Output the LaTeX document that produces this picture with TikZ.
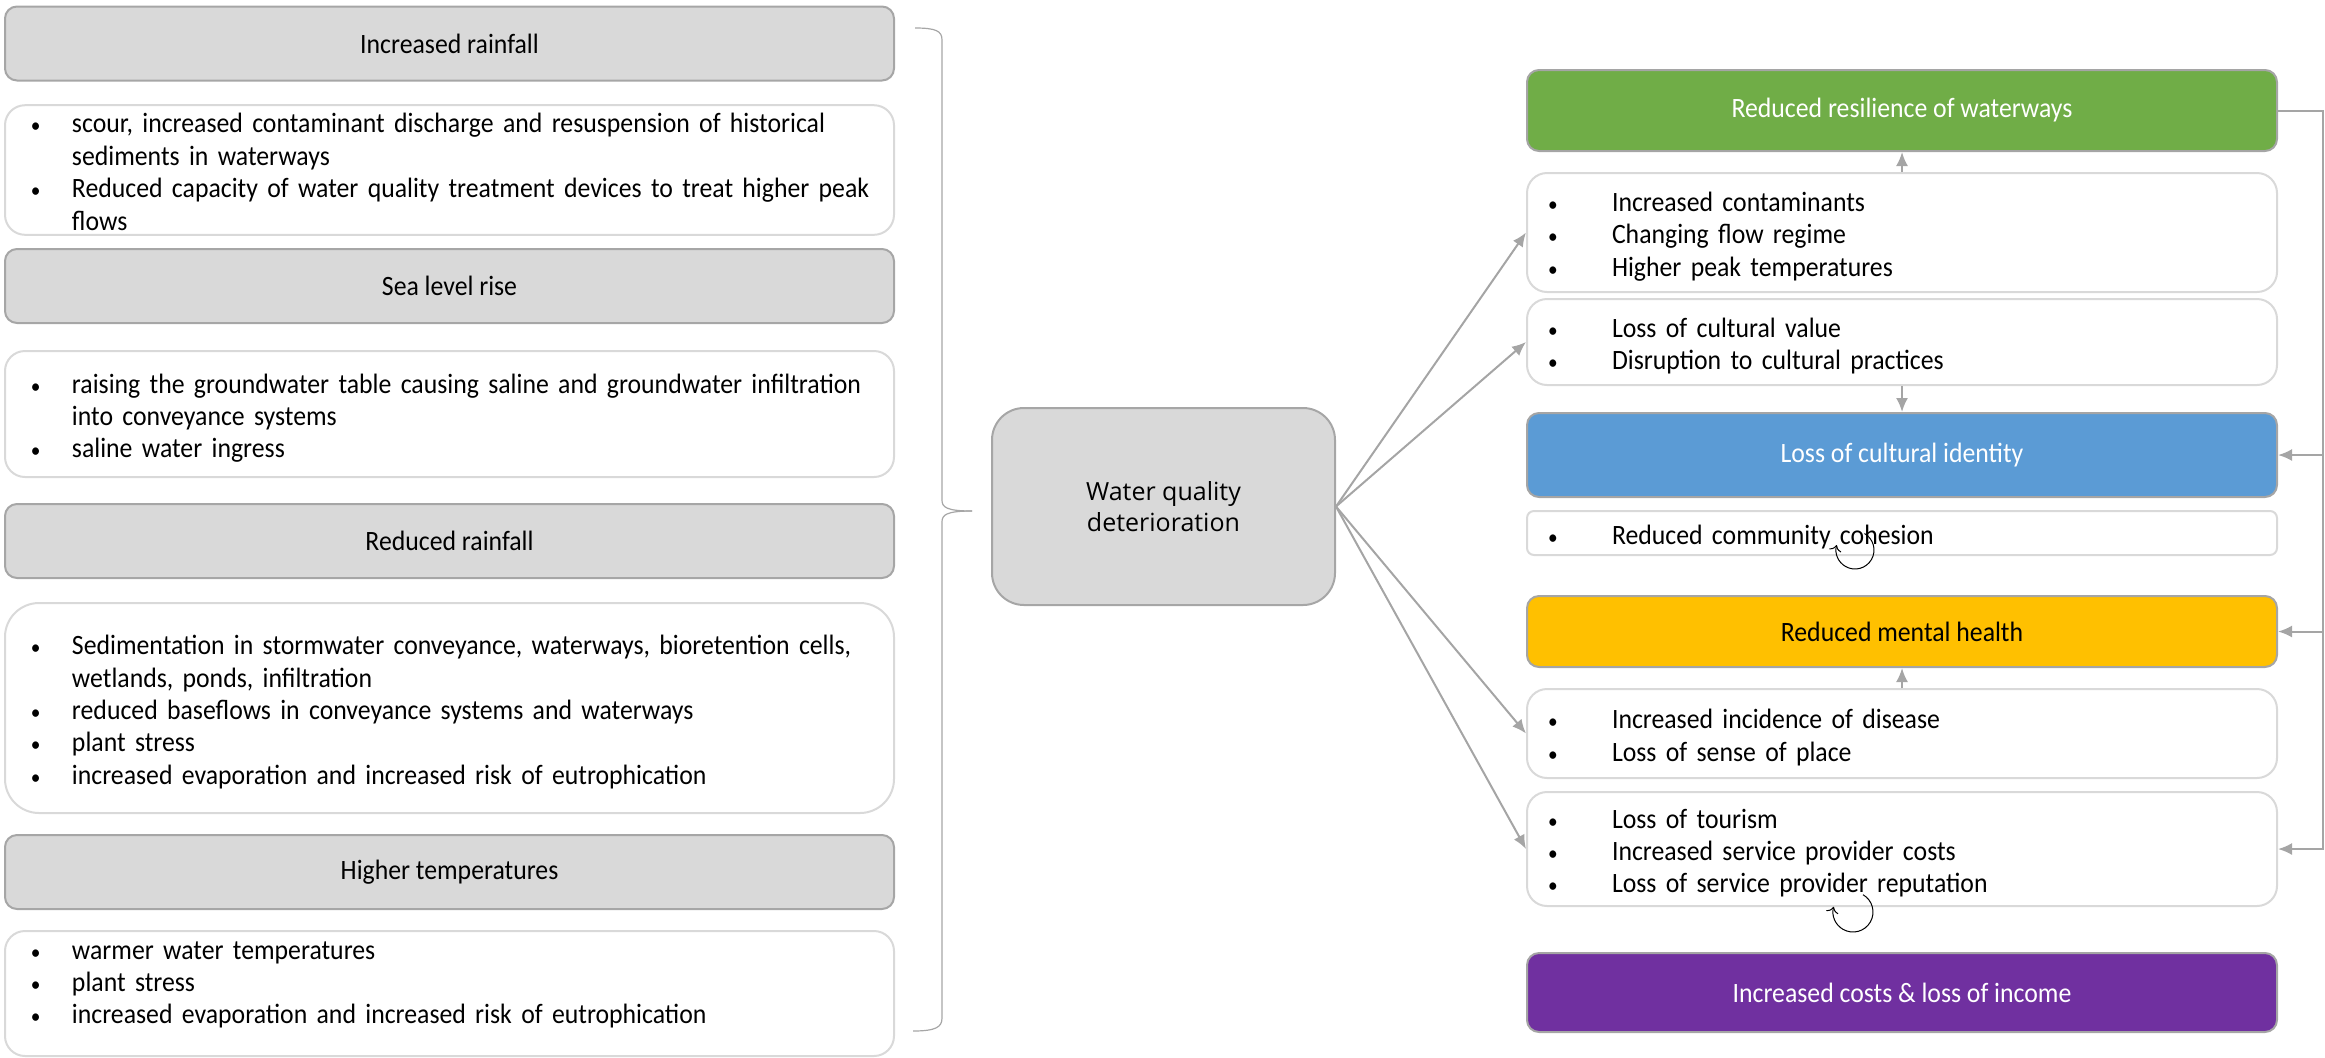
\documentclass[tikz,border=0pt]{standalone}
\usepackage{fontspec}
\setmainfont{Carlito}[FakeStretch=0.92]
\newfontfamily\centrefont{Open Sans}
\usetikzlibrary{arrows.meta}

\definecolor{headfill}{HTML}{D9D9D9}
\definecolor{headline}{HTML}{A6A6A6}
\definecolor{listline}{HTML}{D9D9D9}
\definecolor{arrowgrey}{HTML}{A5A5A5}
\definecolor{greenbox}{HTML}{70AD47}
\definecolor{bluebox}{HTML}{5B9BD5}
\definecolor{yellowbox}{HTML}{FFC000}
\definecolor{purplebox}{HTML}{7030A0}

\newcommand{\bul}{\scalebox{0.75}{\textbullet}}
\newcommand{\leftlist}[1]{\raisebox{-2.5pt}[\height][\depth]{\begin{tabular}{@{}p{20.5pt}@{}l@{}}#1\end{tabular}}}
\newcommand{\rightlist}[1]{\raisebox{-2.5pt}[\height][\depth]{\begin{tabular}{@{}p{32pt}@{}l@{}}#1\end{tabular}}}

\tikzset{
    headbox/.style={draw=headline, fill=headfill, line width=1pt, rounded corners=6pt,
        minimum width=444.5pt, minimum height=37pt, inner sep=0pt},
    leftbox/.style={draw=listline, fill=white, line width=1pt, rounded corners=10pt,
        minimum width=444.5pt, inner xsep=13pt, inner ysep=0pt, text width=418.5pt, align=left},
    rightbox/.style={draw=listline, fill=white, line width=1pt, rounded corners=10pt,
        minimum width=375pt, inner xsep=10.5pt, inner ysep=0pt, text width=354pt, align=left},
    effectbox/.style={draw=arrowgrey, line width=1pt, rounded corners=6pt, text=white,
        minimum width=375pt, inner sep=0pt},
    centrebox/.style={draw=headline, fill=headfill, line width=1pt, rounded corners=16pt,
        minimum width=171.5pt, minimum height=98.5pt, align=center,
        font=\centrefont\fontsize{12.5}{15.7}\selectfont},
    arrowline/.style={->, draw=arrowgrey, line width=1pt},
    looparrow/.style={-{To[length=3pt]}, draw=black, line width=0.5pt},
    brace/.style={draw=headline, line width=0.6pt}
}

\begin{document}
\begin{tikzpicture}[x=0.5pt, y=-0.5pt, >={Latex[length=7pt,width=6pt]},
    font=\fontsize{14}{16.2}\selectfont]
    \useasboundingbox (0,0) rectangle (2325,1057);

    % climate drivers
    \node[headbox] (incrain) at (449.5,43.5) {Increased rainfall};
    \node[leftbox, minimum height=63pt] (incrainlist) at (449.5,170) {\leftlist{
        \bul & scour, increased contaminant discharge and resuspension of historical\\
        & sediments in waterways\\
        \bul & Reduced capacity of water quality treatment devices to treat higher peak\\
        & flows}};
    \node[headbox] (sealevel) at (449.5,286) {Sea level rise};
    \node[leftbox, minimum height=63pt] (sealevellist) at (449.5,414) {\leftlist{
        \bul & raising the groundwater table causing saline and groundwater infiltration\\
        & into conveyance systems\\
        \bul & saline water ingress}};
    \node[headbox] (redrain) at (449.5,541) {Reduced rainfall};
    \node[leftbox, minimum height=105pt, rounded corners=17pt] (redrainlist) at (449.5,708) {\leftlist{
        \bul & Sedimentation in stormwater conveyance, waterways, bioretention cells,\\
        & wetlands, ponds, infiltration\\
        \bul & reduced baseflows in conveyance systems and waterways\\
        \bul & plant stress\\
        \bul & increased evaporation and increased risk of eutrophication}};
    \node[headbox] (hightemp) at (449.5,872) {Higher temperatures};
    \node[leftbox, minimum height=62.5pt] (hightemplist) at (449.5,993.5) {\leftlist{
        \bul & warmer water temperatures\\
        \bul & plant stress\\
        \bul & increased evaporation and increased risk of eutrophication\\[13.5pt]}};

    % brace
    \draw[brace] (915,28) .. controls (936,28) and (942,31) .. (942,40) -- (942,500)
        .. controls (942,507) and (946,511) .. (972,511);
    \draw[brace] (972,511) .. controls (946,511) and (942,515) .. (942,522) -- (942,1018)
        .. controls (942,1027) and (936,1031) .. (913,1031);

    \node[centrebox] (wq) at (1163.5,506.5) {Water quality\\deterioration};

    % impacts
    \node[effectbox, fill=greenbox, minimum height=40.5pt] (resilience) at (1902,110.5) {Reduced resilience of waterways};
    \node[rightbox, minimum height=59.5pt] (waterways) at (1902,232.5) {\rightlist{
        \bul & Increased contaminants\\
        \bul & Changing flow regime\\
        \bul & Higher peak temperatures}};
    \node[rightbox, minimum height=43pt] (cultural) at (1902,342) {\rightlist{
        \bul & Loss of cultural value\\
        \bul & Disruption to cultural practices}};
    \node[effectbox, fill=bluebox, minimum height=42pt] (identity) at (1902,455) {Loss of cultural identity};
    \node[rightbox, minimum height=22pt, rounded corners=3.5pt] (community) at (1902,533) {\rightlist{
        \bul & Reduced community cohesion}};
    \node[effectbox, fill=yellowbox, text=black, minimum height=35.5pt] (mental) at (1902,631.5) {Reduced mental health};
    \node[rightbox, minimum height=44.5pt] (health) at (1902,733.5) {\rightlist{
        \bul & Increased incidence of disease\\
        \bul & Loss of sense of place}};
    \node[rightbox, minimum height=57pt] (tourism) at (1902,849) {\rightlist{
        \bul & Loss of tourism\\
        \bul & Increased service provider costs\\
        \bul & Loss of service provider reputation}};
    \node[effectbox, fill=purplebox, minimum height=39.5pt] (income) at (1902,992.5) {Increased costs \& loss of income};

    % connectors
    \draw[arrowline] (wq.east) -- (waterways.west);
    \draw[arrowline] (wq.east) -- (cultural.west);
    \draw[arrowline] (wq.east) -- (health.west);
    \draw[arrowline] (wq.east) -- (tourism.west);
    \draw[arrowline] (waterways.north) -- (resilience.south);
    \draw[arrowline] (cultural.south) -- (identity.north);
    \draw[arrowline] (health.north) -- (mental.south);
    \draw[arrowline] (resilience.east) -- ++(45,0) coordinate (rail) |- (tourism.east);
    \draw[arrowline] (rail) |- (identity.east);
    \draw[arrowline] (rail) |- (mental.east);

    % loops
    \coordinate (cohesionloop) at (1855,550);
    \coordinate (reputationloop) at (1853,912);
    \draw[looparrow] (cohesionloop)++(-60:19) arc (-60:195:19);
    \draw[looparrow] (reputationloop)++(-60:20) arc (-60:195:20);
\end{tikzpicture}
\end{document}
